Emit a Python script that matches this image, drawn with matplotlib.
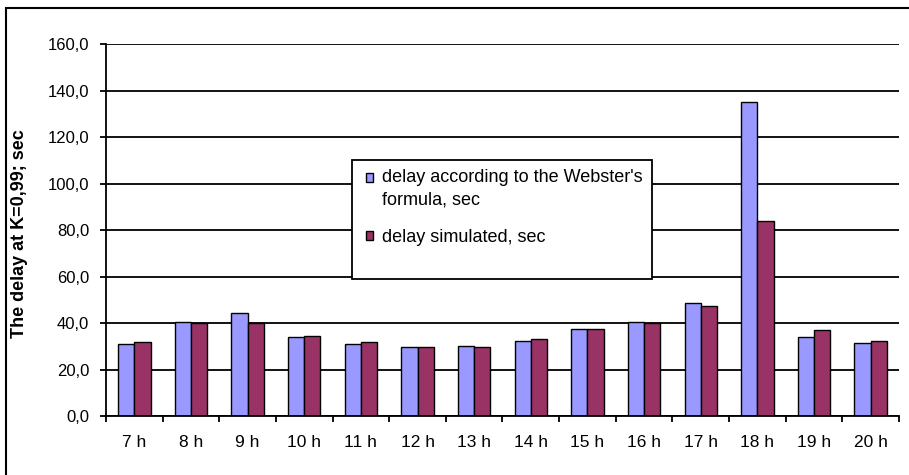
import matplotlib
matplotlib.use("Agg")
import matplotlib.pyplot as plt
from matplotlib.patches import Rectangle
from matplotlib.ticker import FuncFormatter, FixedLocator
import numpy as np

# Data
hours = ["7 h", "8 h", "9 h", "10 h", "11 h", "12 h", "13 h",
         "14 h", "15 h", "16 h", "17 h", "18 h", "19 h", "20 h"]
webster = [30.9, 40.6, 44.4, 33.9, 30.9, 29.5, 30.2,
           32.3, 37.5, 40.6, 48.8, 135.1, 33.8, 31.5]
simulated = [31.8, 40.0, 40.0, 34.6, 31.8, 29.5, 29.5,
             33.2, 37.5, 40.0, 47.1, 84.0, 36.8, 32.3]
yticks = [0, 20, 40, 60, 80, 100, 120, 140, 160]

plt.rcParams["font.family"] = ["Liberation Sans", "DejaVu Sans"]

W, H = 909, 475
fig = plt.figure(figsize=(W / 100, H / 100), dpi=100)
ax = fig.add_axes([106 / W, 1 - 416 / H, 793 / W, 372 / H])

x = np.arange(len(hours))
bw = 1 / 3.5
ax.bar(x - bw / 2, webster, bw, color="#9999FF", edgecolor="black",
       linewidth=1.0, label="delay according to the Webster's\nformula, sec")
ax.bar(x + bw / 2, simulated, bw, color="#993366", edgecolor="black",
       linewidth=1.0, label="delay simulated, sec")

ax.set_xlim(-0.5, len(hours) - 0.5)
ax.set_ylim(0, 160)
ax.set_yticks(yticks)
ax.yaxis.set_major_formatter(FuncFormatter(lambda v, p: f"{v:.1f}".replace(".", ",")))
ax.yaxis.grid(True, color="black", linewidth=1.3)
ax.set_axisbelow(True)

ax.set_xticks(x)
ax.set_xticklabels(hours)
ax.xaxis.set_minor_locator(FixedLocator(np.arange(-0.5, len(hours), 1.0)))
ax.tick_params(axis="x", which="major", length=0, pad=14, labelsize=12.5)
ax.tick_params(axis="x", which="minor", length=4, width=1.3, direction="out")
ax.tick_params(axis="y", length=4, width=1.3, direction="out", pad=8, labelsize=12)

for s in ["top", "right"]:
    ax.spines[s].set_visible(False)
ax.spines["left"].set_linewidth(1.3)
ax.spines["bottom"].set_linewidth(1.3)

ax.set_ylabel("The delay at K=0,99; sec", fontsize=13, fontweight="bold")
ax.yaxis.label.set_verticalalignment("center")
ax.yaxis.set_label_coords(-(106 - 20) / 793, (416 - 234) / 372)

# Legend box
ax.add_patch(Rectangle((352 / W, 1 - 279 / H), 300 / W, 119 / H,
                       transform=fig.transFigure, facecolor="white",
                       edgecolor="black", linewidth=1.3, zorder=5,
                       clip_on=False))
leg = ax.legend(loc="upper left", bbox_to_anchor=(366 / W, 1 - 169 / H),
                bbox_transform=fig.transFigure, frameon=False,
                fontsize=13, handlelength=0.4, handleheight=0.4,
                handletextpad=0.5, labelspacing=1.1, borderaxespad=0,
                borderpad=0)
leg.set_zorder(6)
leg.get_texts()[0].set_linespacing(1.45)
# put the first marker next to the first line of its label
h0 = leg.legend_handles[0]
h0.set_y(h0.get_y() + 8.5)

# Outer chart frame
fig.patches.append(Rectangle((6 / W, -0.1), 1.2, 1.1 - 8 / H,
                             transform=fig.transFigure, facecolor="none",
                             edgecolor="black", linewidth=1.5))

fig.savefig("out.png", dpi=100)
